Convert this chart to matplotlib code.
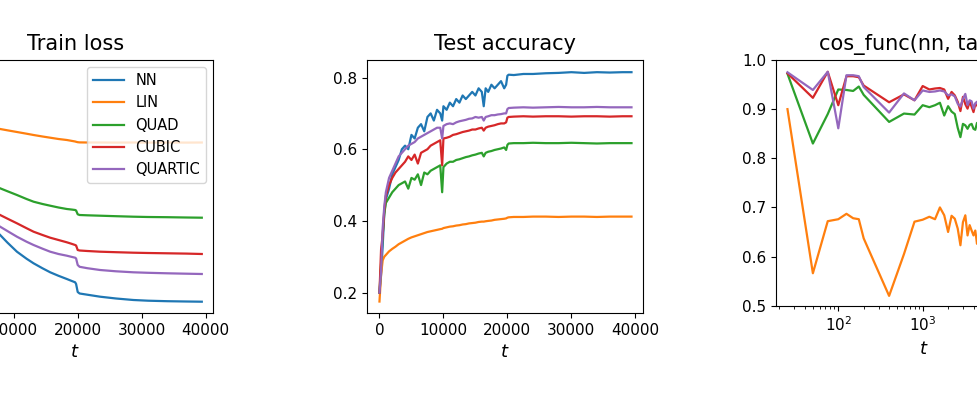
import matplotlib
matplotlib.use('Agg')
import matplotlib.pyplot as plt

# Series names and colours (matplotlib default cycle)
labels = ['NN', 'LIN', 'QUAD', 'CUBIC', 'QUARTIC']
colors = ['#1f77b4', '#ff7f0e', '#2ca02c', '#d62728', '#9467bd']

# ---- Train loss (only the right part of this panel is visible) ----
t_train = [7000, 7875, 9000, 10500, 12000, 13100, 14500, 15700, 17000, 18300,
           19000, 19600, 19750, 20000, 20300, 21500, 23500, 26000, 28700,
           31000, 34000, 37000, 39400]
train_nn = [1.036, 0.98, 0.905, 0.813, 0.743, 0.697, 0.647, 0.607, 0.572, 0.54,
            0.522, 0.507, 0.49, 0.41, 0.395, 0.383, 0.363, 0.345, 0.33,
            0.323, 0.318, 0.315, 0.313]
train_lin = [2.05, 2.04, 2.027, 2.01, 1.993, 1.98, 1.965, 1.953, 1.94, 1.93,
             1.922, 1.915, 1.912, 1.908, 1.906, 1.905, 1.905, 1.904, 1.905,
             1.904, 1.905, 1.904, 1.905]
train_quad = [1.47, 1.447, 1.418, 1.38, 1.34, 1.313, 1.29, 1.273, 1.255, 1.24,
              1.235, 1.23, 1.225, 1.187, 1.18, 1.177, 1.173, 1.168, 1.163,
              1.16, 1.158, 1.155, 1.153]
train_cubic = [1.208, 1.18, 1.144, 1.097, 1.048, 1.013, 0.98, 0.953, 0.93, 0.907,
               0.893, 0.88, 0.875, 0.83, 0.825, 0.82, 0.813, 0.808, 0.803,
               0.80, 0.797, 0.794, 0.79]
train_quartic = [1.096, 1.063, 1.02, 0.963, 0.913, 0.88, 0.843, 0.813, 0.79, 0.773,
                 0.762, 0.753, 0.745, 0.68, 0.662, 0.648, 0.63, 0.617, 0.607,
                 0.602, 0.597, 0.593, 0.59]

# ---- Test accuracy ----
t_acc = [0, 250, 500, 750, 1000, 1500, 2000, 2500, 3000, 3500, 4000, 4500, 5000,
         5500, 6000, 6500, 7000, 7500, 8000, 8500, 9000, 9500, 9800, 10000,
         10500, 11000, 11500, 12000, 12500, 13000, 13500, 14000, 14500, 15000,
         15500, 16000, 16300, 16600, 17000, 17500, 18000, 18500, 19000, 19500,
         19800, 20000, 20200, 21000, 22500, 24000, 26000, 28000, 30000, 32000,
         34000, 36000, 38000, 39400]
acc_nn = [0.20, 0.25, 0.33, 0.42, 0.46, 0.49, 0.53, 0.55, 0.57, 0.60, 0.61, 0.60,
          0.64, 0.63, 0.66, 0.67, 0.65, 0.69, 0.70, 0.68, 0.71, 0.70, 0.68, 0.72,
          0.71, 0.73, 0.72, 0.74, 0.73, 0.75, 0.74, 0.75, 0.76, 0.75, 0.77, 0.76,
          0.72, 0.77, 0.76, 0.78, 0.77, 0.78, 0.79, 0.77, 0.78, 0.805, 0.808,
          0.807, 0.81, 0.81, 0.812, 0.813, 0.815, 0.813, 0.815, 0.814, 0.815,
          0.815]
acc_lin = [0.175, 0.25, 0.29, 0.30, 0.305, 0.315, 0.322, 0.328, 0.335, 0.34,
           0.345, 0.35, 0.354, 0.357, 0.36, 0.363, 0.366, 0.369, 0.371, 0.373,
           0.375, 0.377, 0.378, 0.38, 0.382, 0.384, 0.385, 0.387, 0.388, 0.39,
           0.391, 0.393, 0.394, 0.395, 0.397, 0.398, 0.398, 0.399, 0.40, 0.401,
           0.403, 0.404, 0.405, 0.406, 0.407, 0.409, 0.41, 0.411, 0.411, 0.412,
           0.412, 0.411, 0.412, 0.412, 0.411, 0.412, 0.412, 0.412]
acc_quad = [0.20, 0.28, 0.36, 0.42, 0.45, 0.465, 0.48, 0.49, 0.50, 0.505, 0.51,
            0.49, 0.52, 0.515, 0.53, 0.50, 0.535, 0.53, 0.54, 0.545, 0.55, 0.555,
            0.48, 0.55, 0.56, 0.565, 0.565, 0.57, 0.572, 0.575, 0.578, 0.58,
            0.583, 0.585, 0.588, 0.59, 0.58, 0.59, 0.593, 0.595, 0.598, 0.60,
            0.602, 0.605, 0.598, 0.612, 0.616, 0.617, 0.617, 0.618, 0.617, 0.617,
            0.618, 0.617, 0.616, 0.617, 0.617, 0.617]
acc_cubic = [0.20, 0.32, 0.36, 0.43, 0.47, 0.50, 0.52, 0.535, 0.545, 0.555,
             0.565, 0.58, 0.57, 0.585, 0.56, 0.59, 0.595, 0.60, 0.61, 0.615, 0.62,
             0.625, 0.555, 0.63, 0.632, 0.635, 0.64, 0.642, 0.645, 0.648, 0.65,
             0.652, 0.655, 0.655, 0.658, 0.66, 0.652, 0.66, 0.663, 0.665, 0.667,
             0.67, 0.672, 0.672, 0.675, 0.688, 0.69, 0.691, 0.692, 0.691, 0.692,
             0.692, 0.691, 0.692, 0.692, 0.691, 0.692, 0.692]
acc_quartic = [0.20, 0.26, 0.38, 0.44, 0.48, 0.52, 0.54, 0.56, 0.58, 0.59, 0.60,
               0.61, 0.615, 0.62, 0.63, 0.635, 0.64, 0.645, 0.65, 0.655, 0.66,
               0.66, 0.63, 0.665, 0.67, 0.672, 0.67, 0.675, 0.678, 0.68, 0.682,
               0.685, 0.686, 0.69, 0.688, 0.69, 0.68, 0.69, 0.692, 0.695, 0.695,
               0.697, 0.698, 0.70, 0.70, 0.712, 0.715, 0.716, 0.717, 0.716, 0.717,
               0.718, 0.717, 0.717, 0.718, 0.717, 0.717, 0.717]

# ---- cos_func(nn, target) (log x axis, right part cut off) ----
t_cos = [25, 50, 75, 100, 125, 150, 175, 200, 400, 600, 800, 1000, 1200, 1400,
         1600, 1800, 2000, 2200, 2400, 2600, 2800, 3000, 3200, 3400, 3600, 3800,
         4000, 4200, 4400, 4600, 4800, 5000]
cos_lin = [0.90, 0.566, 0.672, 0.676, 0.687, 0.678, 0.676, 0.637, 0.52, 0.605,
           0.671, 0.675, 0.681, 0.676, 0.70, 0.684, 0.65, 0.683, 0.677, 0.657,
           0.623, 0.67, 0.684, 0.643, 0.664, 0.653, 0.643, 0.653, 0.626, 0.645,
           0.635, 0.64]
cos_quad = [0.972, 0.83, 0.89, 0.94, 0.939, 0.937, 0.946, 0.929, 0.874, 0.891,
            0.889, 0.908, 0.904, 0.908, 0.913, 0.887, 0.906, 0.895, 0.89, 0.862,
            0.843, 0.87, 0.867, 0.86, 0.868, 0.87, 0.86, 0.858, 0.872, 0.868,
            0.862, 0.87]
cos_cubic = [0.973, 0.923, 0.976, 0.908, 0.967, 0.967, 0.965, 0.948, 0.914, 0.93,
             0.918, 0.947, 0.94, 0.942, 0.943, 0.94, 0.921, 0.935, 0.928, 0.915,
             0.896, 0.925, 0.91, 0.901, 0.915, 0.905, 0.894, 0.91, 0.908, 0.902,
             0.905, 0.90]
cos_quartic = [0.975, 0.939, 0.976, 0.861, 0.969, 0.969, 0.967, 0.945, 0.893,
               0.932, 0.918, 0.938, 0.935, 0.936, 0.938, 0.936, 0.928, 0.93,
               0.926, 0.911, 0.905, 0.921, 0.931, 0.908, 0.918, 0.916, 0.901,
               0.912, 0.915, 0.905, 0.91, 0.908]

W, H = 978, 400
LW = 1.6


def px_rect(left, top, width, height):
    """Axes rectangle from pixel coordinates of the 978x400 canvas"""
    return [left / W, (H - top - height) / H, width / W, height / H]


def style_axes(ax, title):
    ax.set_title(title, fontsize=15, pad=7)
    ax.set_xlabel('$t$', fontsize=13, labelpad=4)
    ax.tick_params(labelsize=11)


def main():
    fig = plt.figure(figsize=(W / 100, H / 100), dpi=100)

    # Plot 1: train loss (its y axis lies outside the visible canvas)
    ax1 = fig.add_axes(px_rect(-62.7, 60, 276, 253))
    train = [train_nn, train_lin, train_quad, train_cubic, train_quartic]
    for vals, lab, col in zip(train, labels, colors):
        ax1.plot(t_train, vals, color=col, lw=LW, label=lab)
    ax1.set_xlim(-1950, 41200)
    ax1.set_ylim(0.2, 2.73)
    style_axes(ax1, 'Train loss')
    ax1.tick_params(axis='y', labelleft=False)
    ax1.legend(loc='upper right', fontsize=10.5, handlelength=2.1)

    # Plot 2: test accuracy
    ax2 = fig.add_axes(px_rect(367, 60, 276, 253))
    acc = [acc_nn, acc_lin, acc_quad, acc_cubic, acc_quartic]
    for vals, lab, col in zip(acc, labels, colors):
        ax2.plot(t_acc, vals, color=col, lw=LW, label=lab)
    ax2.set_xlim(-1950, 41200)
    ax2.set_ylim(0.143, 0.849)
    ax2.set_yticks([0.2, 0.4, 0.6, 0.8])
    style_axes(ax2, 'Test accuracy')

    # Plot 3: cosine between nn and target functions
    ax3 = fig.add_axes(px_rect(776, 60, 296, 245.7))
    cos = [cos_lin, cos_quad, cos_cubic, cos_quartic]
    for vals, lab, col in zip(cos, labels[1:], colors[1:]):
        ax3.plot(t_cos, vals, color=col, lw=LW, label=lab)
    ax3.set_xscale('log')
    ax3.set_xlim(10 ** 1.262, 10 ** (1.262 + 296 / 84.4))
    ax3.set_ylim(0.5, 1.0)
    style_axes(ax3, 'cos_func(nn, target)')

    fig.savefig('out.png', dpi=100)


if __name__ == "__main__":
    main()
